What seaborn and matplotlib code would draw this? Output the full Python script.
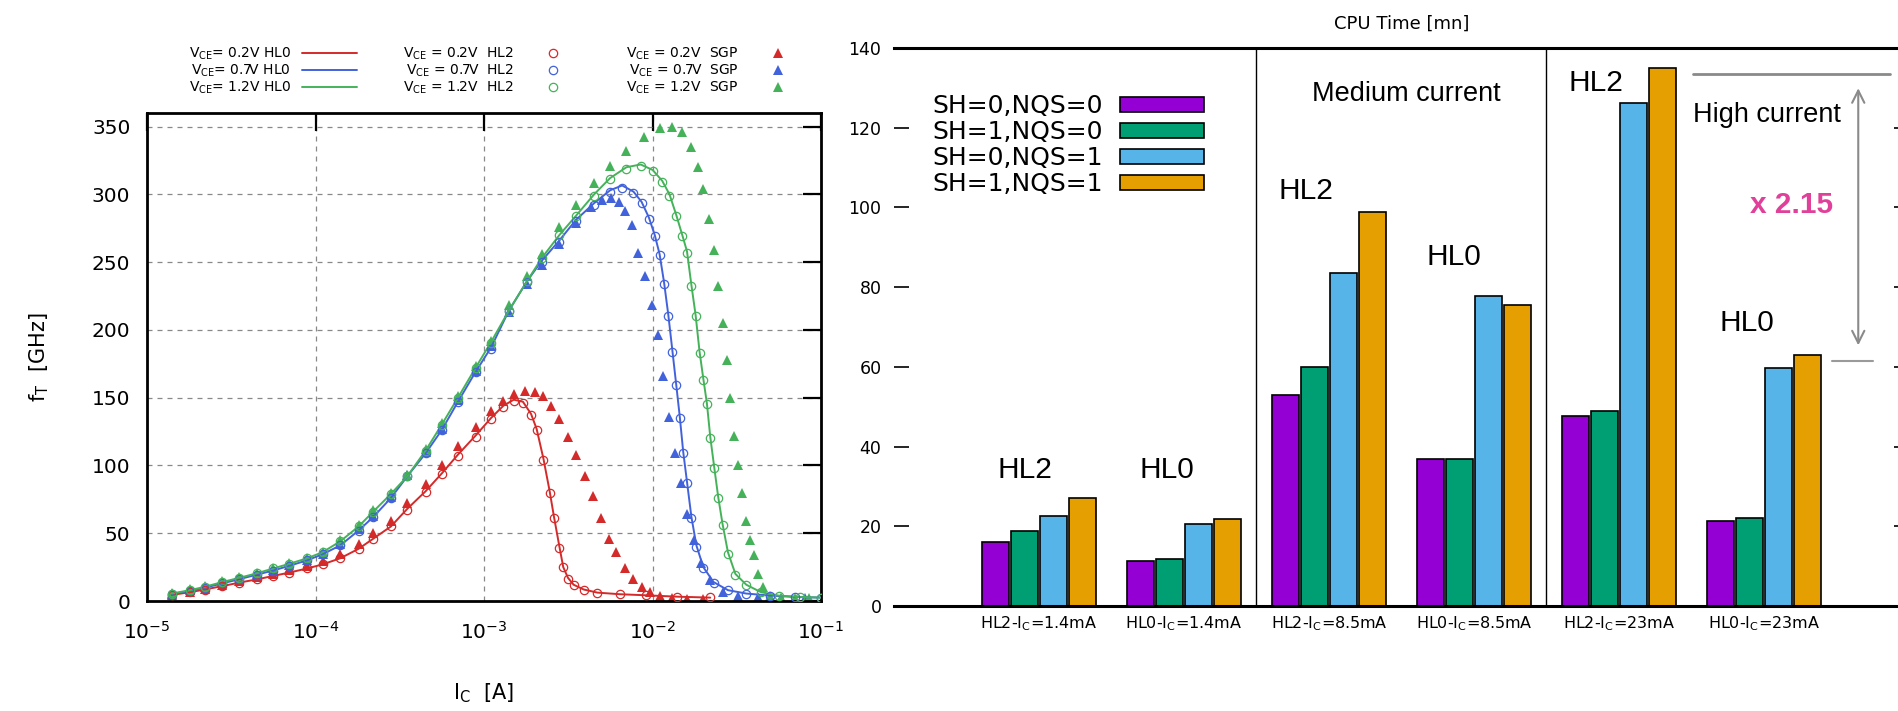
import matplotlib
matplotlib.use('Agg')
import matplotlib.pyplot as plt
import pandas as pd
import seaborn as sns
from matplotlib.patches import Patch
from matplotlib.ticker import FixedLocator, NullLocator

# ---------------- left panel: fT vs IC ----------------
# collector current sweep, shared low-current part [A]
ic_low = [1.4e-5, 1.8e-5, 2.2e-5, 2.8e-5, 3.5e-5, 4.5e-5, 5.6e-5, 7e-5, 8.9e-5, 1.1e-4,
          1.4e-4, 1.8e-4, 2.2e-4, 2.8e-4, 3.5e-4, 4.5e-4, 5.6e-4, 7e-4, 8.9e-4, 1.1e-3]

# VCE = 0.2 V
ic_02_hl = ic_low + [1.3e-3, 1.5e-3, 1.7e-3, 1.9e-3, 2.05e-3, 2.25e-3, 2.45e-3, 2.6e-3, 2.8e-3,
                     2.95e-3, 3.15e-3, 3.4e-3, 3.9e-3, 4.7e-3, 6.4e-3, 9.2e-3, 1.4e-2, 2.2e-2]
ft_02_hl0 = [4.5, 6.5, 8.5, 11, 13.5, 16, 18.5, 21, 24, 27, 31.5, 38.5, 46, 55, 68, 81, 94, 108, 122, 135,
             144, 148.5, 147, 138, 127, 105, 81, 62, 40, 25, 17, 12, 8.5, 6.2, 5, 4.2, 3.2, 2.5]
ft_02_hl2 = [4.4, 6.4, 8.4, 11, 13.4, 16, 18.4, 21, 24, 27, 31.5, 38.5, 46, 55, 67.5, 80.5, 93.5, 107, 121, 134,
             143, 147.5, 146, 137, 126, 104, 80, 61, 39, 25, 16.5, 11.8, 8.2, 6.1, 5, 4.3, 3.3, 2.6]
ic_02_sgp = ic_low + [1.3e-3, 1.5e-3, 1.75e-3, 2.0e-3, 2.25e-3, 2.5e-3, 2.8e-3, 3.15e-3, 3.5e-3, 3.95e-3, 4.4e-3,
                      4.95e-3, 5.5e-3, 6.1e-3, 6.9e-3, 7.7e-3, 8.6e-3, 9.7e-3, 1.1e-2, 1.3e-2, 1.6e-2, 2.0e-2]
ft_02_sgp = [4.8, 7, 9, 12, 14.5, 17.5, 20, 23, 26, 29.5, 35, 42, 50, 59, 72, 86, 100, 114, 128, 140,
             147.5, 152.5, 155, 154.5, 151, 144, 134, 121, 108, 92, 77.5, 61, 46, 36, 24, 16.5, 10, 6.5,
             3.5, 2, 1.5, 1.5]

# VCE = 0.7 V
ic_07_hl = ic_low + [1.4e-3, 1.8e-3, 2.2e-3, 2.8e-3, 3.5e-3, 4.5e-3, 5.6e-3, 6.6e-3, 7.7e-3, 8.6e-3, 9.5e-3,
                     1.03e-2, 1.1e-2, 1.17e-2, 1.24e-2, 1.31e-2, 1.38e-2, 1.45e-2, 1.52e-2, 1.6e-2, 1.7e-2,
                     1.82e-2, 2.0e-2, 2.3e-2, 2.8e-2, 3.6e-2, 5e-2, 7e-2, 1e-1]
ft_07_hl0 = [5.2, 7.5, 9.8, 13, 16, 19.5, 22.5, 26, 30, 34.5, 41, 52, 62, 76, 92, 109, 126, 147, 169, 187,
             214, 236, 251, 266, 281, 293.5, 303, 306.5, 302, 294.5, 283, 270, 256, 235, 211, 185, 160, 136,
             110, 88, 62, 41, 25, 14, 8, 5.5, 4, 3, 2.5]
ft_07_hl2 = [5.1, 7.4, 9.7, 13, 16, 19.5, 22.5, 26, 30, 34.5, 41, 52, 62, 76, 92, 109, 126, 147, 169, 186,
             214, 235, 250, 265, 280, 292, 302, 305, 301, 293.5, 282, 269, 255, 234, 210, 184, 159, 135,
             109, 87, 61, 40, 24, 13.5, 8, 5.5, 4, 3, 2.5]
ic_07_sgp = ic_low + [1.4e-3, 1.8e-3, 2.2e-3, 2.8e-3, 3.5e-3, 4.3e-3, 5.0e-3, 5.7e-3, 6.3e-3, 6.9e-3, 7.5e-3,
                      8.2e-3, 9e-3, 9.9e-3, 1.07e-2, 1.16e-2, 1.26e-2, 1.36e-2, 1.47e-2, 1.6e-2, 1.75e-2,
                      1.95e-2, 2.2e-2, 2.6e-2, 3.2e-2, 4.2e-2, 5.8e-2, 8e-2]
ft_07_sgp = [5.5, 7.8, 10.2, 13.5, 16.5, 20, 23, 26.5, 30.5, 35, 42, 53, 63, 77, 93, 110, 127, 148, 170, 188,
             213, 234, 248, 263, 279, 291, 296, 297, 294, 288, 277, 257, 240, 218, 196, 166, 136, 109, 87,
             64, 45, 28, 15.5, 7, 4, 3, 2.5, 2.5]

# VCE = 1.2 V
ic_12_hl = ic_low + [1.4e-3, 1.8e-3, 2.2e-3, 2.8e-3, 3.5e-3, 4.5e-3, 5.6e-3, 7e-3, 8.5e-3, 1.0e-2, 1.14e-2,
                     1.26e-2, 1.38e-2, 1.5e-2, 1.6e-2, 1.7e-2, 1.8e-2, 1.9e-2, 2.0e-2, 2.1e-2, 2.2e-2,
                     2.32e-2, 2.45e-2, 2.6e-2, 2.8e-2, 3.1e-2, 3.6e-2, 4.4e-2, 5.6e-2, 7.5e-2, 1e-1]
ft_12_hl0 = [5.5, 8, 10.5, 14, 17, 20.5, 24, 27.5, 31.5, 36, 44, 55, 66, 79, 92, 111, 130, 150, 172, 191,
             214, 236, 253, 270, 284, 300, 312, 320, 322, 318, 310, 300, 285, 270, 258, 233, 211, 184, 164,
             146, 121, 99, 77, 57, 36, 20, 12, 6.5, 4, 3, 2.5]
ft_12_hl2 = [5.4, 7.9, 10.4, 14, 17, 20.5, 24, 27.5, 31.5, 36, 44, 55, 66, 79, 92, 111, 130, 150, 172, 190,
             214, 236, 253, 270, 284, 299, 311, 319, 321, 317, 309, 299, 284, 269, 257, 232, 210, 183, 163,
             145, 120, 98, 76, 56, 35, 19.5, 12, 6.5, 4, 3, 2.5]
ic_12_sgp = ic_low + [1.4e-3, 1.8e-3, 2.2e-3, 2.8e-3, 3.5e-3, 4.5e-3, 5.6e-3, 7e-3, 8.9e-3, 1.1e-2, 1.3e-2,
                      1.5e-2, 1.7e-2, 1.85e-2, 2.0e-2, 2.15e-2, 2.3e-2, 2.45e-2, 2.6e-2, 2.75e-2, 2.9e-2,
                      3.05e-2, 3.2e-2, 3.4e-2, 3.6e-2, 3.8e-2, 4.0e-2, 4.25e-2, 4.5e-2, 5e-2, 5.8e-2, 7e-2, 8.5e-2]
ft_12_sgp = [6, 8.5, 11, 14.5, 17.5, 21, 24.5, 28, 32, 36.5, 45, 56, 67, 80, 93, 112, 131, 151, 173, 192,
             218, 240, 256, 276, 292, 308, 321, 332, 342, 349, 350, 346, 335, 320, 304, 282, 259, 232, 205,
             178, 150, 122, 100, 80, 59, 45, 34, 20, 10, 4, 2.5, 2, 2]

vce_labels = ['0.2V', '0.7V', '1.2V']
vce_colors = ['#d42a2a', '#4262dc', '#45b25a']

# ---------------- right panel: CPU time ----------------
cases = ['HL2-I$_C$=1.4mA', 'HL0-I$_C$=1.4mA', 'HL2-I$_C$=8.5mA',
         'HL0-I$_C$=8.5mA', 'HL2-I$_C$=23mA', 'HL0-I$_C$=23mA']
settings = ['SH=0,NQS=0', 'SH=1,NQS=0', 'SH=0,NQS=1', 'SH=1,NQS=1']
cpu_sh0_nqs0 = [16.1, 11.2, 52.9, 36.8, 47.6, 21.4]
cpu_sh1_nqs0 = [18.8, 11.9, 60.0, 36.8, 48.8, 22.0]
cpu_sh0_nqs1 = [22.5, 20.5, 83.6, 77.9, 126.1, 59.6]
cpu_sh1_nqs1 = [27.2, 21.7, 98.9, 75.4, 134.9, 62.9]
bar_colors = ['#9400d3', '#009e73', '#56b4e9', '#e69f00']

sns.set_theme(style='white')
plt.rcParams['font.family'] = ['DejaVu Sans']
plt.rcParams['mathtext.default'] = 'regular'
plt.rcParams['axes.edgecolor'] = 'black'
plt.rcParams['text.color'] = 'black'
plt.rcParams['axes.labelcolor'] = 'black'
plt.rcParams['xtick.color'] = 'black'
plt.rcParams['ytick.color'] = 'black'

fig = plt.figure(figsize=(18.98, 7.11), dpi=100)
ax1 = fig.add_axes([0.0775, 0.1547, 0.3551, 0.6864])
ax2 = fig.add_axes([0.4710, 0.1477, 0.5348, 0.7848])

# ---- left panel ----
series = [
    (ic_02_hl, ft_02_hl0, ic_02_hl, ft_02_hl2, ic_02_sgp, ft_02_sgp),
    (ic_07_hl, ft_07_hl0, ic_07_hl, ft_07_hl2, ic_07_sgp, ft_07_sgp),
    (ic_12_hl, ft_12_hl0, ic_12_hl, ft_12_hl2, ic_12_sgp, ft_12_sgp),
]
for (x0, y0, _, _, _, _), v, c in zip(series, vce_labels, vce_colors):
    sns.lineplot(x=x0, y=y0, ax=ax1, color=c, lw=1.4, estimator=None, sort=False,
                 label=f'V$_{{CE}}$= {v} HL0', zorder=3)
for (_, _, x2, y2, _, _), v, c in zip(series, vce_labels, vce_colors):
    sns.lineplot(x=x2, y=y2, ax=ax1, color=c, linestyle='', marker='o', markersize=6,
                 markerfacecolor='none', markeredgecolor=c, markeredgewidth=0.9,
                 estimator=None, sort=False, label=f'V$_{{CE}}$ = {v}  HL2', zorder=4)
for (_, _, _, _, xs, ys), v, c in zip(series, vce_labels, vce_colors):
    sns.lineplot(x=xs, y=ys, ax=ax1, color=c, linestyle='', marker='^', markersize=7.5,
                 markeredgewidth=0, estimator=None, sort=False,
                 label=f'V$_{{CE}}$ = {v}  SGP', zorder=2)

handles, labels = ax1.get_legend_handles_labels()
if ax1.get_legend() is not None:
    ax1.get_legend().remove()

ax1.set_xscale('log')
ax1.set_xlim(1e-5, 1e-1)
ax1.set_ylim(0, 360)
ax1.xaxis.set_major_locator(FixedLocator([1e-5, 1e-4, 1e-3, 1e-2, 1e-1]))
ax1.xaxis.set_minor_locator(NullLocator())
ax1.set_xticklabels(['$10^{-5}$', '$10^{-4}$', '$10^{-3}$', '$10^{-2}$', '$10^{-1}$'])
ax1.set_yticks([0, 50, 100, 150, 200, 250, 300, 350])
ax1.grid(True, which='major', linestyle=(0, (4, 4)), color='#888888', lw=0.9)
ax1.tick_params(which='major', direction='in', length=13, width=1.6, top=True, right=True,
                labelsize=14.5)
ax1.tick_params(axis='y', pad=12)
ax1.tick_params(axis='x', pad=14)
for s in ax1.spines.values():
    s.set_linewidth(2)
    s.set_color('black')
ax1.set_ylabel('f$_T$  [GHz]', fontsize=15)
ax1.yaxis.set_label_coords(-0.143, 0.5)
ax1.set_xlabel('I$_C$  [A]', fontsize=15)
ax1.xaxis.set_label_coords(0.5, -0.165)

fig.legend(handles, labels, loc='center', bbox_to_anchor=(497 / 1898, 0.9001), ncol=3,
           frameon=False, markerfirst=False, fontsize=10, handlelength=4, handletextpad=0.8,
           columnspacing=3.3, labelspacing=0.05, borderpad=0)

# ---- right panel ----
df = pd.DataFrame({
    'case': cases * 4,
    'setting': [s for s in settings for _ in cases],
    'cpu': cpu_sh0_nqs0 + cpu_sh1_nqs0 + cpu_sh0_nqs1 + cpu_sh1_nqs1,
})
sns.barplot(data=df, x='case', y='cpu', hue='setting', hue_order=settings, order=cases,
            palette=bar_colors, saturation=1, gap=0.07, width=0.8, errorbar=None,
            edgecolor='black', linewidth=1.2, legend=False, ax=ax2)
ax2.set_xlim(-1, 6)
ax2.set_ylim(0, 140)
ax2.set_yticks(range(0, 141, 20))
ax2.set_xlabel('')
ax2.set_ylabel('')
ax2.tick_params(axis='y', direction='in', length=11, width=1.2, left=True, right=True,
                labelsize=12.5, pad=9)
ax2.tick_params(axis='x', length=0, labelsize=11.5, pad=6)
ax2.spines['left'].set_visible(False)
ax2.spines['right'].set_visible(False)
ax2.spines['top'].set_linewidth(2.2)
ax2.spines['bottom'].set_linewidth(2.2)
ax2.axvline(1.5, color='black', lw=1)
ax2.axvline(3.5, color='black', lw=1)
ax2.set_title('CPU Time [mn]', fontsize=13, pad=14)

leg_handles = [Patch(facecolor=c, edgecolor='black', linewidth=1.2) for c in bar_colors]
ax2.legend(leg_handles, settings, loc='center left', bbox_to_anchor=(0.0374, 0.826),
           frameon=False, markerfirst=False, fontsize=18, handlelength=3.36, handleheight=0.56,
           handletextpad=0.72, labelspacing=0.08, borderpad=0, borderaxespad=0)

lab = dict(fontfamily='Liberation Sans', ha='center', va='center', color='black')
ax2.text(-0.1, 34.1, 'HL2', fontsize=21.5, **lab)
ax2.text(0.88, 34.1, 'HL0', fontsize=21.5, **lab)
ax2.text(1.84, 104, 'HL2', fontsize=21.5, **lab)
ax2.text(2.86, 87.5, 'HL0', fontsize=21.5, **lab)
ax2.text(3.84, 131.2, 'HL2', fontsize=21.5, **lab)
ax2.text(4.88, 70.9, 'HL0', fontsize=21.5, **lab)
ax2.text(2.53, 128.4, 'Medium current', fontsize=19.5, **lab)
ax2.text(4.508, 123.3, 'High current', fontsize=19.5, fontfamily='Liberation Sans',
         ha='left', va='center')
ax2.text(5.19, 100.5, 'x 2.15', fontsize=21.5, fontweight='bold', fontfamily='Liberation Sans',
         ha='center', va='center', color='#e0409a')
ax2.plot([4.51, 5.87], [133.5, 133.5], color='#8a8a8a', lw=2)
ax2.plot([5.47, 5.75], [61.4, 61.4], color='#9a9a9a', lw=1.5)
ax2.annotate('', xy=(5.65, 64.7), xytext=(5.65, 130.6),
             arrowprops=dict(arrowstyle='<->', color='#8a8a8a', lw=1.5, mutation_scale=22))

fig.savefig('out.png', dpi=100)
